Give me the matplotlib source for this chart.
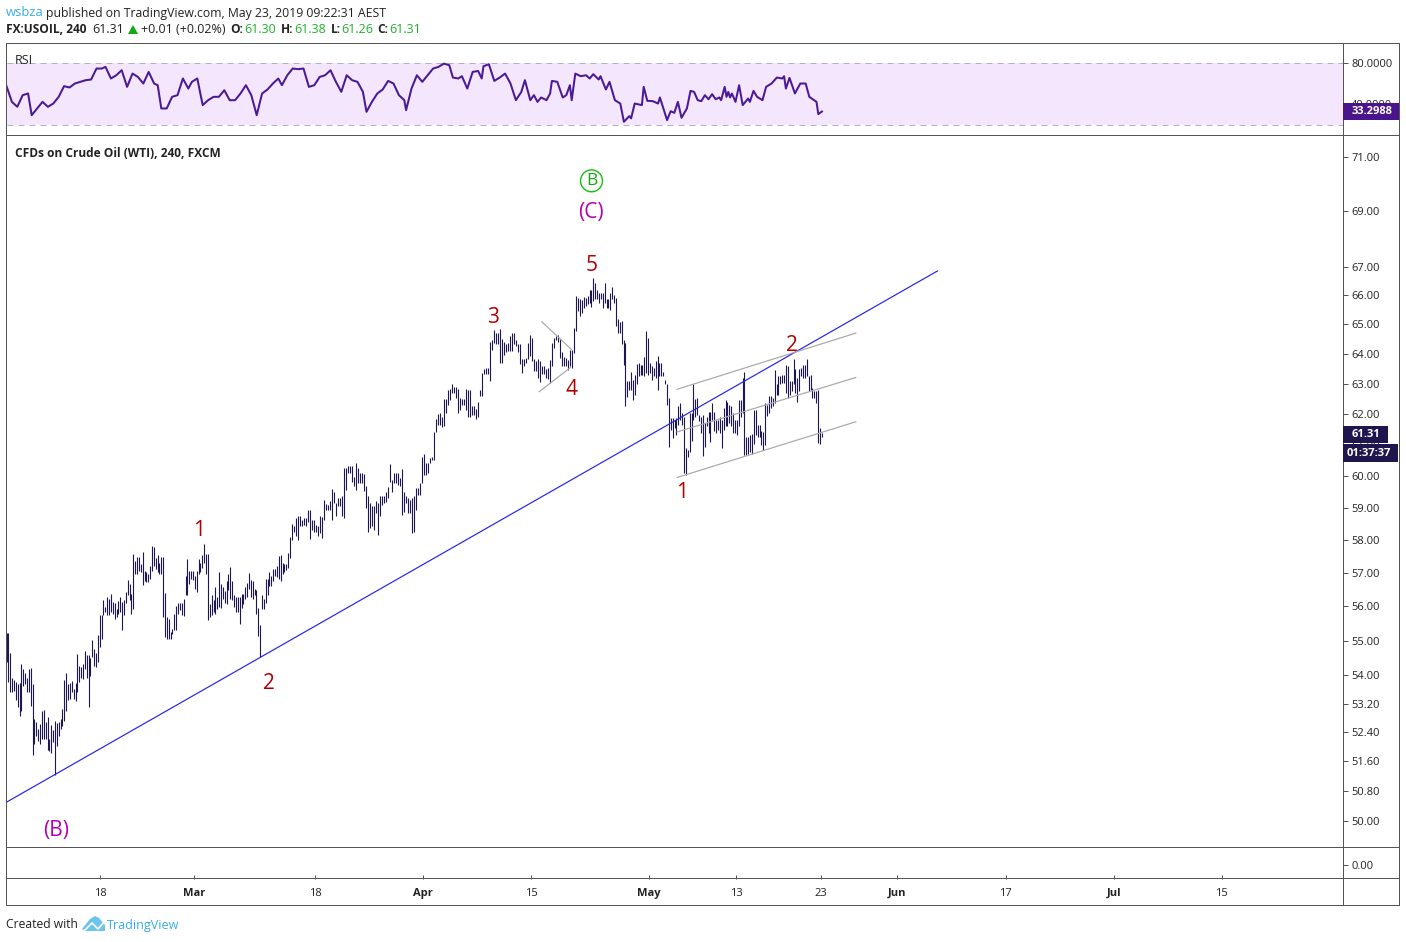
import numpy as np
import matplotlib
matplotlib.use("Agg")
import matplotlib.pyplot as plt
from matplotlib.patches import Rectangle, Polygon
from matplotlib.lines import Line2D
from matplotlib.ticker import NullFormatter, NullLocator

# ---------- data ----------
HIGH_A = [55.23,55.23,54.64,53.93,53.87,53.80,53.75,53.78,54.32,54.17,
54.08,53.93,54.17,54.22,53.75,52.77,52.68,52.49,52.63,52.98,
53.02,52.68,52.82,52.21,52.60,52.45,52.70,52.66,52.68,52.77,
53.05,53.87,54.06,53.75,53.78,53.84,53.61,53.78,54.62,54.27,
54.25,54.32,54.71,54.59,54.59,54.49,55.03,54.76,54.64,55.17,
55.76,55.76,56.18,55.99,56.28,56.23,56.38,56.13,56.09,55.94,
56.15,56.28,56.13,56.18,56.43,56.79,56.67,56.38,57.58,57.36,
57.49,57.49,57.26,57.62,57.07,57.04,56.97,57.21,57.82,57.80,
57.46,57.53,57.31,57.49,57.49,56.41,55.69,55.62,55.25,55.35,
55.79,56.02,56.09,56.11,56.11,56.23,56.92,57.41,57.07,57.07,
57.07,56.92,57.07,57.43,57.31,57.55,57.88,57.58,57.58,56.06,
56.33,56.18,56.57,56.28,57.02,56.67,56.57,56.45,56.77,56.97,
57.19,56.77,56.35,56.28,56.28,56.28,56.38,56.38,56.57,56.70,
57.00,56.80,56.77,56.53,56.48,55.96,55.45,56.33,56.23,56.82,
56.82,57.04,56.92,57.11,57.13,57.21,57.51,57.55,57.31,57.26,
57.26,57.60,58.09]
LOW_A = [54.39,53.80,53.54,53.52,53.56,53.31,53.10,52.86,53.00,53.70,
53.75,53.52,53.52,53.13,51.78,52.07,52.29,52.17,52.07,52.21,
52.20,52.21,51.92,51.89,51.84,52.12,51.24,52.03,52.31,52.49,
52.58,52.70,52.98,53.31,53.33,53.52,53.33,53.28,53.54,53.80,
53.93,53.89,54.17,53.93,53.10,53.98,54.52,54.27,54.25,54.37,
54.81,55.06,55.74,55.84,55.76,55.74,55.84,55.79,55.64,55.69,
55.79,55.84,55.30,55.74,56.09,56.33,56.18,55.79,55.94,56.97,
56.97,57.07,57.02,56.64,56.77,56.74,56.72,56.82,57.07,57.21,
57.11,57.02,56.97,56.97,55.69,55.11,55.06,55.06,55.04,55.20,
55.30,55.30,55.79,55.89,55.74,55.72,56.33,56.33,56.67,56.82,
56.80,56.51,56.43,56.97,57.02,57.16,57.31,56.97,55.59,55.69,
55.76,55.84,55.79,55.94,55.99,55.96,56.23,56.09,56.06,56.48,
56.23,56.18,55.99,55.84,55.84,55.47,55.96,56.06,56.23,56.28,
56.53,56.28,56.23,56.33,55.79,55.13,54.52,55.94,55.94,56.09,
56.33,56.62,56.62,56.77,56.90,56.87,56.82,56.77,56.97,57.04,
57.09,57.16,57.46]

HIGH_B = [58.50,58.42,58.68,58.73,58.73,58.62,58.68,58.68,58.94,58.92,
58.62,58.62,58.47,58.42,58.73,58.71,59.25,59.12,59.09,59.20,
59.58,59.50,59.15,59.30,59.30,59.36,60.24,60.24,60.32,60.30,
60.32,59.98,60.40,60.24,60.08,60.08,60.06,59.68,59.36,59.15,
59.04,59.04,59.20,59.15,59.36,59.36,59.36,59.50,59.66,60.38,
59.88,60.08,60.08,60.10,59.93,60.21,59.48,59.36,59.30,59.25,
59.30,59.36,59.61,59.61,59.79,60.60,60.70,60.40,60.40,60.56,
60.60,61.42,61.83,62.00,62.02,61.90,62.50,62.50,62.80,62.82,
62.97,62.87,62.87,62.82,62.52,62.48,62.48,62.82,62.78,62.78,
62.25,62.25,62.16,62.38,62.80,63.35,63.50,63.53,63.53,64.40,
64.47,64.80,64.72,64.72,64.83,64.50,64.40,64.33,64.38,64.60,
64.70,64.70,64.47,64.32,64.32,63.82,63.82,63.87,64.38,64.65,
64.55,63.82,63.76,63.82,63.76,63.58,63.58,63.47,63.53,63.78,
64.38,64.55,64.60,64.62,64.50,64.05,63.90,63.87,63.80,64.13,
64.13]
LOW_B = [58.00,58.26,58.13,58.00,58.42,58.42,58.47,58.42,58.57,58.02,
58.31,58.26,58.26,58.13,58.21,58.05,58.62,58.92,58.94,58.94,
58.62,59.15,58.73,59.04,59.04,58.73,58.68,59.54,60.08,60.08,
59.82,59.67,59.56,59.79,59.77,59.77,59.51,58.99,58.26,58.36,
58.42,58.31,58.83,58.16,58.73,59.09,59.15,59.17,59.30,59.82,
59.50,59.77,59.77,59.72,59.67,58.78,58.88,59.15,58.83,58.83,
58.21,58.26,58.94,59.40,59.40,59.79,60.03,60.03,60.08,60.40,
60.50,60.50,61.42,61.65,61.65,61.58,61.60,62.02,62.28,62.46,
62.70,62.70,62.52,62.04,62.13,62.30,62.30,62.13,61.90,61.88,
61.96,61.96,61.83,61.88,62.58,62.58,63.31,63.31,63.31,63.10,
64.13,64.36,64.32,64.32,63.70,63.70,63.97,64.05,64.08,64.08,
64.08,64.32,64.25,64.05,63.65,63.35,63.60,63.70,63.82,63.92,
63.76,63.43,63.43,63.20,63.05,63.31,63.31,63.20,63.14,63.03,
63.58,64.20,64.45,64.40,63.87,63.58,63.60,63.58,63.45,63.58,
63.53]

HIGH_C = [64.87,65.98,65.92,65.87,65.85,65.95,65.92,65.98,66.20,66.18,
66.60,66.45,66.20,66.10,66.08,66.10,66.45,65.87,65.87,66.10,
66.30,66.03,65.90,65.20,65.07,65.10,64.45,64.36,63.07,63.07,
63.40,63.13,63.27,63.65,63.68,63.62,63.62,63.88,64.78,64.52,
63.68,63.57,63.52,63.75,63.92,63.68,63.68,63.40,63.13,63.00,
62.52,61.86,61.86,61.80,61.86,62.25,62.35,62.02,61.90,60.88,
60.83,62.02,62.02,62.97,62.48,62.53,61.97,61.90,61.97,61.70,
61.90,62.07,62.07,62.35,62.07,61.80,61.80,61.90,61.80,62.18,
62.45,62.40,62.30,62.25,62.02,61.80,61.80,62.45,62.45,63.20,
63.37,61.24,61.24,61.30,61.35,62.13,62.13,61.65,61.65,61.45,
61.40,62.35,62.30,62.58,62.58,62.53,63.45,62.97,63.25,63.25,
63.30,63.30,63.62,63.57,63.07,63.07,63.82,63.47,63.20,63.47,
63.52,63.62,63.62,63.82,63.25,63.30,62.85,62.74,62.74,62.80,
61.53,61.38]
LOW_C = [64.03,64.78,65.46,65.29,65.40,65.57,65.63,65.70,65.75,65.60,
65.80,65.86,65.86,65.75,65.86,65.57,65.75,65.57,65.57,65.50,
65.86,65.75,64.95,64.72,64.72,64.33,63.62,62.27,62.55,62.80,
62.80,62.46,62.63,62.97,63.25,63.27,63.27,63.25,63.35,63.27,
63.35,63.13,63.25,63.20,62.78,63.25,63.25,63.25,62.97,62.30,
60.93,61.48,61.20,61.55,61.32,61.65,61.80,61.65,60.08,60.03,
60.60,60.75,61.10,61.80,61.90,61.97,61.75,61.38,60.63,60.93,
61.60,61.38,61.07,61.80,61.43,61.38,61.48,61.38,60.90,61.48,
61.60,61.60,61.70,61.60,61.38,61.38,61.32,61.60,61.90,62.02,
60.66,60.66,60.70,60.76,60.70,61.03,61.30,61.25,61.25,61.00,
60.84,61.00,61.93,62.02,62.20,62.25,62.35,62.63,62.63,62.97,
63.02,63.02,62.70,62.52,62.63,62.75,62.97,62.70,62.40,62.75,
63.25,63.20,63.20,63.25,62.75,62.80,62.52,62.52,62.35,61.05,
61.03,61.26]
# bar number where each stretch of bars begins and ends
SPAN_A, SPAN_B, SPAN_C = (0, 157.5), (158.5, 314), (315.5, 453)

RSI_BAR = [0,3,6,9,12,14,17,20,23,26,29,32,35,38,41,44,47,50,53,55,58,61,64,67,70,73,76,79,82,84,
86,89,92,95,98,101,103,106,109,112,115,118,121,124,127,130,133,136,139,142,145,148,151,153,156,159,162,165,168,171,
174,177,180,183,186,189,192,195,198,200,203,206,209,212,215,218,221,222,225,228,231,234,237,240,243,246,248,251,253,256,
259,262,264,265,268,271,274,277,280,283,286,288,291,293,295,297,300,302,303,306,309,311,313,314,316,319,322,324,326,329,
330,333,335,338,341,343,346,347,349,353,354,356,359,362,363,367,369,371,373,375,378,380,382,384,386,388,390,392,394,396,
397,399,400,401,402,403,405,407,409,412,413,415,417,420,422,425,428,431,432,433,435,438,441,444,446,450,451,453]
RSI_VALUE = [57.5,42.5,37.8,48.9,50.5,29.8,36.2,42.5,37.8,40.9,47.3,57.5,56.2,60.0,61.6,63.2,63.8,74.3,74.3,75.9,64.8,67.9,72.7,56.8,69.5,66.3,60.0,71.1,60.0,58.4,
36.2,36.2,47.3,48.9,64.8,55.2,61.6,64.8,39.4,44.1,47.3,47.3,53.6,44.1,44.1,50.5,58.4,48.9,29.8,50.5,54.3,60.0,64.8,58.4,67.9,74.3,73.7,74.3,56.8,58.4,
66.3,67.9,72.7,61.6,52.1,67.9,63.2,61.6,52.1,33.0,42.5,50.5,54.3,62.5,60.0,48.9,44.1,34.6,55.2,67.9,61.6,67.9,74.3,75.9,79.0,77.5,65.7,64.8,67.0,55.2,
71.1,72.0,64.8,76.5,78.4,62.5,65.7,69.5,60.0,44.1,52.0,63.2,44.1,48.9,42.5,46.7,44.1,50.5,62.5,61.6,46.7,48.9,58.4,44.1,69.5,67.0,67.9,64.8,68.9,63.8,
67.0,54.3,61.6,44.1,40.9,23.5,28.9,26.7,40.9,39.4,56.8,43.5,43.2,40.9,46.7,25.1,33.6,32.0,42.5,27.3,36.2,53.0,52.0,44.1,43.2,48.9,45.0,49.8,45.0,46.7,
44.1,56.8,47.3,52.0,46.7,50.5,42.5,58.4,39.4,45.7,42.5,53.0,47.3,44.1,56.8,60.0,65.7,64.8,67.0,55.2,65.4,50.5,60.0,60.0,47.3,42.5,30.8,33.3]

PRICE_TICKS = [50.00,50.80,51.60,52.40,53.20,54.00,55.00,56.00,57.00,58.00,59.00,60.00,61.00,62.00,63.00,64.00,65.00,66.00,67.00,69.00,71.00]
RSI_TICKS = [40.0, 80.0]
TIME_TICK_BARS = [52,104,171.5,231.5,291.5,357,405.5,452.5,494.5,555,615.5,675]
TIME_TICK_LABELS = ["18","Mar","18","Apr","15","May","13","23","Jun","17","Jul","15"]
MONTHS = {"Mar","Apr","May","Jun","Jul"}

TREND_BAR, TREND_PRICE = [0, 517.2], [50.5, 66.86]
CHANNEL_BAR = [372.6, 471.8]
CHANNEL_TOP = [62.81, 64.70]
CHANNEL_MID = [61.41, 63.20]
CHANNEL_BOT = [59.95, 61.74]
TRI_UP_BAR, TRI_UP_PRICE = [297.4, 313.8], [65.09, 64.15]
TRI_LO_BAR, TRI_LO_PRICE = [296.0, 313.2], [62.73, 63.53]
WAVE_RED = [("1",107,58.28),("2",146,53.78),("3",270,65.25),("4",314,62.79),("5",325,67.07),("1",375.3,59.49),("2",436.5,64.27)]
WAVE_MAGENTA = [("(B)",27.5,49.74),("(C)",324.8,68.97)]
WAVE_GREEN = ("B",325,70.12)

# ---------- layout ----------
W, H = 1406, 942
LEFT, PANE_R, OUTER_R = 6.5, 1343, 1399.5
Y_TOP, Y_RSI, Y_MAIN, Y_SUB, Y_BOT = 43.5, 135.5, 847.5, 878.5, 905.5
FONT = "Open Sans"
plt.rcParams["font.family"] = [FONT, "DejaVu Sans"]
FRAME = "#555555"
BAR = "#1d1650"
TAG = "#1f1650"
PURPLE = "#4a1a96"
GREEN = "#1fb02b"
BLUE_TXT = "#36aee8"
TXT = "#222222"
PX = 0.72

fx = lambda x: x / W
fy = lambda y: 1 - y / H

fig = plt.figure(figsize=(W / 100, H / 100), dpi=100, facecolor="white")

def pane(y0, y1):
    ax = fig.add_axes([fx(LEFT), fy(y1), fx(PANE_R - LEFT), (y1 - y0) / H])
    for s in ax.spines.values():
        s.set_visible(False)
    ax.set_xlim(0, (PANE_R - LEFT) / 1.8)
    ax.tick_params(axis="x", bottom=False, labelbottom=False)
    ax.yaxis.tick_right()
    ax.tick_params(axis="y", length=3.6, width=PX, color=FRAME, labelsize=8, labelcolor=TXT, pad=2.3)
    return ax

high = np.array(HIGH_A + HIGH_B + HIGH_C)
low = np.array(LOW_A + LOW_B + LOW_C)
bars = np.concatenate([np.linspace(*SPAN_A, len(HIGH_A)),
                       np.linspace(*SPAN_B, len(HIGH_B)),
                       np.linspace(*SPAN_C, len(HIGH_C))])

# RSI pane
ax_r = pane(Y_TOP, Y_RSI)
ax_r.set_ylim(10.4, 98.2)
ax_r.axhspan(20, 80, color="#f4e6fd", lw=0)
for v in (20, 80):
    ax_r.axhline(v, color="#b8aec4", lw=PX, dashes=(6, 5))
ax_r.plot(RSI_BAR, RSI_VALUE, color=PURPLE, lw=1.45, solid_joinstyle="round")
ax_r.set_yticks(RSI_TICKS, [f"{v:.4f}" for v in RSI_TICKS])

# Main pane
ax = pane(Y_RSI, Y_MAIN)
ax.set_yscale("log")
ax.set_ylim(49.305, 71.82)
ax.yaxis.set_minor_locator(NullLocator())
ax.yaxis.set_minor_formatter(NullFormatter())
ax.set_yticks(PRICE_TICKS, [f"{v:.2f}" for v in PRICE_TICKS])
ax.vlines(bars, low, high, color=BAR, lw=0.8)
ax.plot(TREND_BAR, TREND_PRICE, color="#2222ee", lw=0.85)
for series in (CHANNEL_TOP, CHANNEL_MID, CHANNEL_BOT):
    ax.plot(CHANNEL_BAR, series, color="#ababab", lw=0.9)
ax.plot(TRI_UP_BAR, TRI_UP_PRICE, color="#ababab", lw=0.9)
ax.plot(TRI_LO_BAR, TRI_LO_PRICE, color="#ababab", lw=0.9)
for t, b, p in WAVE_RED:
    ax.text(b, p, t, color="#b00000", fontsize=15, ha="center", va="center")
for t, b, p in WAVE_MAGENTA:
    ax.text(b, p, t, color="#b400b4", fontsize=15, ha="center", va="center")
ax.text(WAVE_GREEN[1], WAVE_GREEN[2], WAVE_GREEN[0], color="#12a812", fontsize=12.5, ha="center", va="center",
        bbox=dict(boxstyle="circle,pad=0.17", fc="white", ec="#12c012", lw=1.0))

# Empty lower pane
ax_s = pane(Y_MAIN, Y_SUB)
ax_s.set_ylim(-1, 1)
ax_s.set_yticks([-0.1], ["0.00"])

# Time axis
ax_t = pane(Y_SUB, Y_BOT)
ax_t.set_yticks([])
ax_t.set_ylim(0, 1)
ax_t.set_xticks(TIME_TICK_BARS, TIME_TICK_LABELS)
ax_t.tick_params(axis="x", bottom=False, top=True, length=3, width=PX, color=FRAME, labelbottom=True,
                 labeltop=False, labelsize=8, labelcolor=TXT, pad=-15.8)
for lab in ax_t.get_xticklabels():
    if lab.get_text() in MONTHS:
        lab.set_fontweight("bold")

# Frames
def hline(y, x0=LEFT - 0.5, x1=OUTER_R - 0.5):
    fig.add_artist(Line2D([fx(x0), fx(x1)], [fy(y - 0.5), fy(y - 0.5)], color=FRAME, lw=PX, zorder=4))
def vline(x, y0=Y_TOP - 0.5, y1=Y_BOT - 0.5):
    fig.add_artist(Line2D([fx(x - 0.5), fx(x - 0.5)], [fy(y0), fy(y1)], color=FRAME, lw=PX, zorder=4))
for y in (Y_TOP, Y_RSI, Y_MAIN, Y_SUB, Y_BOT):
    hline(y)
vline(LEFT); vline(PANE_R + 0.5); vline(OUTER_R)

# Price tags
def tag(x0, x1, y0, y1, color, text, tx):
    fig.add_artist(Rectangle((fx(x0), fy(y1)), (x1 - x0) / W, (y1 - y0) / H, transform=fig.transFigure,
                             fc=color, ec="none", zorder=5))
    fig.text(fx(tx), fy((y0 + y1) / 2), text, color="white", fontsize=8, fontweight="bold", ha="left",
             va="center", zorder=6)
tag(1343, 1399, 103, 120, "#4a148c", "33.2988", 1352)
tag(1343, 1388, 426, 443, TAG, "61.31", 1352)
tag(1343, 1398, 444, 462, TAG, "01:37:37", 1347)

# Texts
def label(x, y, s, color=TXT, weight="normal", size=9):
    return fig.text(fx(x), fy(y), s, color=color, fontweight=weight, fontsize=size, ha="left", va="center", zorder=6)
label(6, 13, "wsbza", BLUE_TXT, size=9.4)
label(46, 13, "published on TradingView.com, May 23, 2019 09:22:31 AEST", size=8.8)
label(6, 29.5, "FX:USOIL, 240", weight="bold", size=8.6)
label(92, 29.5, "61.31")
fig.add_artist(Polygon([[fx(128), fy(34)], [fx(138), fy(34)], [fx(133), fy(25)]], closed=True,
                       transform=fig.transFigure, fc="#13a813", ec="none", zorder=6))
label(141, 29.5, "+0.01 (+0.02%)")
for x, s in ((230, "O:"), (281, "H:"), (331, "L:"), (377, "C:")):
    label(x, 29.5, s, weight="bold", size=8.6)
for x, s in ((244, "61.30"), (294, "61.38"), (341, "61.26"), (389, "61.31")):
    label(x, 29.5, s, GREEN)
label(15, 61, "RSI", size=9)
label(15, 153.5, "CFDs on Crude Oil (WTI), 240, FXCM", weight="bold", size=8.6)
label(6, 925, "Created with", size=8.7)
label(107, 925, "TradingView", BLUE_TXT)
logo = [[82, 929], [90, 919], [95, 916], [99, 918], [105, 925], [105, 931], [85, 931]]
fig.add_artist(Polygon([[fx(a), fy(b)] for a, b in logo], closed=True, transform=fig.transFigure,
                       fc="#6cc4ec", ec="none", zorder=6))
fig.add_artist(Line2D([fx(a) for a in (84, 92, 98, 105)], [fy(b) for b in (931, 923, 929, 921)],
                      color="white", lw=1.2, zorder=7))

fig.savefig("out.png", dpi=100, facecolor="white")
